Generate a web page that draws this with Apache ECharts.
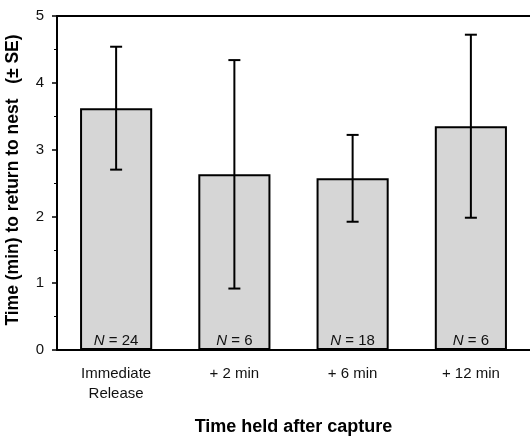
<!DOCTYPE html>
<html><head><meta charset="utf-8">
<script src="https://cdn.jsdelivr.net/npm/echarts@6/dist/echarts.min.js"></script>
<style>html,body{margin:0;padding:0;background:#fff}#c{width:530px;height:437px}</style>
</head><body><div id="c"></div>
<script>
const categories = ['Immediate\nRelease', '+ 2 min', '+ 6 min', '+ 12 min'];
const meanValues = [3.62, 2.63, 2.57, 3.35];
const seValues = [0.92, 1.71, 0.65, 1.37];
const sampleSizes = [24, 6, 18, 6];
const yTicks = [0, 1, 2, 3, 4, 5];

const chart = echarts.init(document.getElementById('c'));
const font = '"Liberation Sans", Arial, sans-serif';
chart.setOption({
  animation: false,
  grid: {left: 57, right: 0, top: 16, bottom: 87, containLabel: false, outerBoundsMode: 'none'},
  xAxis: [{
    type: 'category', data: categories,
    name: 'Time held after capture', nameLocation: 'middle', nameGap: 68,
    nameTextStyle: {fontFamily: font, fontWeight: 'bold', fontSize: 18, color: '#000'},
    axisLine: {lineStyle: {color: '#000', width: 2}},
    axisTick: {alignWithLabel: true, length: 5, lineStyle: {color: '#000', width: 1.5}},
    axisLabel: {fontFamily: font, fontSize: 15, color: '#111', margin: 14, lineHeight: 20}
  }, {
    type: 'category', data: categories, position: 'top',
    axisLine: {lineStyle: {color: '#000', width: 2}},
    axisTick: {show: false}, axisLabel: {show: false}
  }],
  yAxis: {
    type: 'value', min: yTicks[0], max: yTicks[yTicks.length-1], interval: 1,
    name: 'Time (min) to return to nest   (± SE)', nameLocation: 'middle', nameGap: 35,
    nameTextStyle: {fontFamily: font, fontWeight: 'bold', fontSize: 17.5, color: '#000', padding: [0, 0, 0, 6]},
    axisLine: {show: true, lineStyle: {color: '#000', width: 2}},
    axisTick: {show: true, length: 5, lineStyle: {color: '#000', width: 1.5}},
    minorTick: {show: true, splitNumber: 2, length: 3, lineStyle: {color: '#000', width: 1}},
    splitLine: {show: false},
    axisLabel: {fontFamily: font, fontSize: 15, color: '#111', margin: 13}
  },
  series: [{
    type: 'bar', data: meanValues, barWidth: '61%',
    itemStyle: {color: '#d6d6d6', borderColor: '#000', borderWidth: 2},
    label: {
      show: true, position: 'insideBottom', distance: 2,
      formatter: p => '{i|N} = ' + sampleSizes[p.dataIndex],
      fontFamily: font, fontSize: 15, color: '#111',
      rich: {i: {fontStyle: 'italic', fontFamily: font, fontSize: 15, color: '#111'}}
    },
    z: 2
  }, {
    type: 'custom',
    data: meanValues.map((m, i) => [i, m - seValues[i], m + seValues[i]]),
    renderItem: (params, api) => {
      const lo = api.coord([api.value(0), api.value(1)]);
      const hi = api.coord([api.value(0), api.value(2)]);
      const w = 6;
      const st = {stroke: '#000', lineWidth: 2};
      return {type: 'group', children: [
        {type: 'line', shape: {x1: hi[0], y1: hi[1], x2: lo[0], y2: lo[1]}, style: st},
        {type: 'line', shape: {x1: hi[0]-w, y1: hi[1], x2: hi[0]+w, y2: hi[1]}, style: st},
        {type: 'line', shape: {x1: lo[0]-w, y1: lo[1], x2: lo[0]+w, y2: lo[1]}, style: st}
      ]};
    },
    z: 5
  }]
});
</script></body></html>
